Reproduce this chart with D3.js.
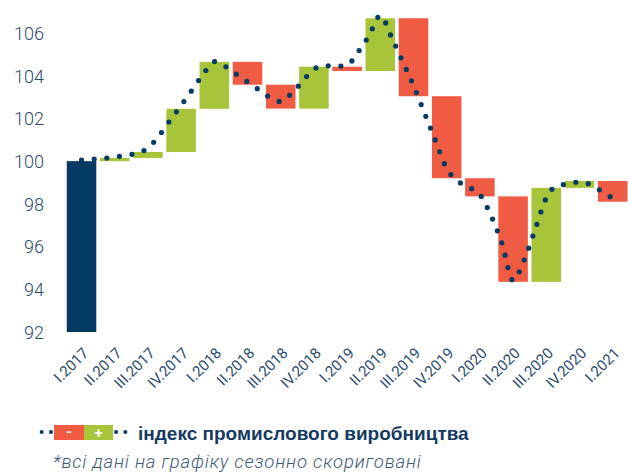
<!DOCTYPE html>
<html>
<head>
<meta charset="utf-8">
<script src="https://cdn.jsdelivr.net/npm/d3@7"></script>
<style>
  html, body { margin: 0; padding: 0; background: #fff; }
  svg { display: block; }
</style>
</head>
<body>
<svg id="chart" width="628" height="472"></svg>
<script>
// ---- data ----
const quarters = ["I.2017","II.2017","III.2017","IV.2017","I.2018","II.2018","III.2018","IV.2018",
                  "I.2019","II.2019","III.2019","IV.2019","I.2020","II.2020","III.2020","IV.2020","I.2021"];
// quarterly index level (end of each waterfall step)
const quarterIndex = [100, 100.15, 100.43, 102.45, 104.65, 103.58, 102.46, 104.42,
                      104.22, 106.69, 103.04, 99.2, 98.35, 94.35, 98.75, 99.07, 98.1];
const baseValue = 92;
// monthly index (dotted line), Jan 2017 .. Jan 2021 (one point per month, 3 per quarter)
const monthlyIndex = [100.05, 100.09, 100.13, 100.19, 100.28, 100.37, 100.61, 101.19, 101.91, 102.61,
                      103.34, 104.07, 104.66, 104.43, 104.07, 103.71, 103.35, 102.99, 102.79, 103.18,
                      103.75, 104.31, 104.47, 104.44, 104.50, 105.12, 105.90, 106.82, 105.82, 104.69,
                      103.55, 102.25, 100.94, 99.66, 99.07, 98.78, 98.44, 97.45, 96.14, 94.41,
                      95.37, 96.81, 98.28, 98.85, 98.93, 99.03, 98.90, 98.59, 98.26];
const yTicks = [92, 94, 96, 98, 100, 102, 104, 106];
const legendLabel = "індекс промислового виробництва";
const footnote = "*всі дані на графіку сезонно скориговані";

// ---- styles ----
const navy = "#043a63";
const red = "#f05c43";
const green = "#a7c43a";
const textColor = "#2b4a6c";

const svg = d3.select("#chart");

const x = d3.scaleBand().domain(quarters).range([63.1, 631.1]).paddingInner(0.11).paddingOuter(0.11);
const y = d3.scaleLinear().domain([92, 106]).range([332, 33]);

// y axis labels
const yAxis = d3.axisLeft(y).tickValues(yTicks).tickSize(0).tickPadding(0).tickFormat(d3.format("d"));
const yg = svg.append("g").attr("transform", "translate(44,0)").call(yAxis);
yg.select(".domain").remove();
yg.selectAll("text")
  .attr("fill", textColor)
  .style("font-family", "Roboto, 'Liberation Sans', sans-serif")
  .style("font-weight", 300)
  .style("font-size", "18px")
  .attr("dy", "0.35em");

// bars
const bars = quarters.map((q, i) => {
  const start = i === 0 ? baseValue : quarterIndex[i - 1];
  const end = quarterIndex[i];
  return { q, start, end, kind: i === 0 ? "base" : (end >= start ? "up" : "down") };
});
svg.append("g").selectAll("rect").data(bars).join("rect")
  .attr("x", d => x(d.q))
  .attr("width", x.bandwidth())
  .attr("y", d => y(Math.max(d.start, d.end)))
  .attr("height", d => Math.max(1.5, Math.abs(y(d.start) - y(d.end))))
  .attr("fill", d => d.kind === "base" ? navy : d.kind === "up" ? green : red);

// x axis labels
const xAxis = d3.axisBottom(x).tickSize(0).tickPadding(0);
const xg = svg.append("g").attr("transform", "translate(0,350)").call(xAxis);
xg.select(".domain").remove();
xg.selectAll("text")
  .attr("fill", textColor)
  .style("font-family", "Roboto, 'Liberation Sans', sans-serif")
  .style("font-weight", 400)
  .style("font-size", "15px")
  .attr("text-anchor", "end")
  .attr("dy", "0")
  .attr("transform", "translate(8,4) rotate(-45)");

// dotted monthly line
const xm = d3.scaleLinear().domain([0, quarters.length - 1])
  .range([x(quarters[0]) + x.bandwidth() / 2, x(quarters[quarters.length - 1]) + x.bandwidth() / 2]);
const line = d3.line()
  .x((d, i) => xm(i / 3))
  .y(d => y(d))
  .curve(d3.curveMonotoneX);
svg.append("path")
  .datum(monthlyIndex)
  .attr("d", line)
  .attr("fill", "none")
  .attr("stroke", navy)
  .attr("stroke-width", 5.2)
  .attr("stroke-linecap", "round")
  .attr("stroke-dasharray", "0 12.7");

// legend
const lg = svg.append("g");
lg.append("line")
  .attr("x1", 41.7).attr("x2", 126).attr("y1", 432).attr("y2", 432)
  .attr("stroke", navy).attr("stroke-width", 4).attr("stroke-linecap", "round")
  .attr("stroke-dasharray", "0 9.3");
lg.append("rect").attr("x", 54).attr("y", 425).attr("width", 30).attr("height", 15).attr("fill", red);
lg.append("rect").attr("x", 84).attr("y", 425).attr("width", 29).attr("height", 15).attr("fill", green);
lg.append("text").attr("x", 69).attr("y", 437).attr("text-anchor", "middle").attr("fill", "#fff")
  .style("font-family", "Roboto, sans-serif").style("font-weight", 700).style("font-size", "14px").text("-");
lg.append("text").attr("x", 98.5).attr("y", 437.5).attr("text-anchor", "middle").attr("fill", "#fff")
  .style("font-family", "Roboto, sans-serif").style("font-weight", 700).style("font-size", "15px").text("+");
lg.append("text").attr("x", 138).attr("y", 440).attr("fill", "#143a62")
  .style("font-family", "'Liberation Sans', Arial, sans-serif").style("font-weight", 700).style("font-size", "19px")
  .text(legendLabel);

svg.append("text").attr("x", 53).attr("y", 468).attr("fill", "#3d5a7a")
  .style("font-family", "Roboto, 'Liberation Sans', sans-serif").style("font-weight", 300)
  .style("font-style", "italic").style("font-size", "18.5px").style("letter-spacing", "0.8px")
  .text(footnote);
</script>
</body>
</html>
